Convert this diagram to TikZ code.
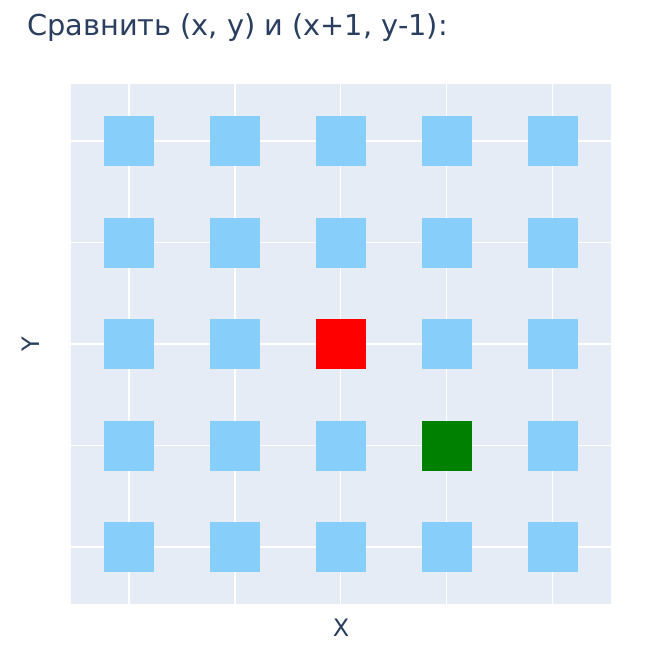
\documentclass[tikz,border=0pt]{standalone}
\usepackage{fontspec}
\setmainfont{DejaVu Sans}
\definecolor{plotbg}{HTML}{E5ECF6}
\definecolor{txt}{HTML}{2A3F5F}
\definecolor{sky}{HTML}{87CEFA}
\definecolor{myred}{HTML}{FF0000}
\definecolor{mygreen}{HTML}{008000}
\tikzset{
  cell/.style={minimum width=50pt,minimum height=50pt,inner sep=0pt,outer sep=0pt,draw=none},
  gridline/.style={white,line width=1.3pt},
  lbl/.style={text=txt,inner sep=0pt,font=\fontsize{24}{28}\selectfont},
}
\begin{document}
\begin{tikzpicture}[x=1pt,y=-1pt]
\useasboundingbox (0,0) rectangle (656,651);
\fill[white] (0,0) rectangle (656,651);
\fill[plotbg] (71,84) rectangle (611,604);
\foreach \i in {0,...,4}{
  \draw[gridline] ({129+105.9*\i},84) -- ({129+105.9*\i},604);
  \draw[gridline] (71,{141+101.5*\i}) -- (611,{141+101.5*\i});
}
\foreach \i in {0,...,4}{
  \foreach \j in {0,...,4}{
    \node[cell,fill=sky] (c\i\j) at ({129+105.9*\i},{141+101.5*\j}) {};
  }
}
\node[cell,fill=myred] (red) at (c22) {};
\node[cell,fill=mygreen] (green) at (c33) {};
\node[lbl,anchor=base west,font=\fontsize{28.8}{32}\selectfont] (title) at (27,35) {Сравнить (x, y) и (x+1, y-1):};
\node[lbl,anchor=base] (xlab) at (341,636) {X};
\node[lbl,anchor=base,rotate=90] (ylab) at (39,344) {Y};
\end{tikzpicture}
\end{document}
